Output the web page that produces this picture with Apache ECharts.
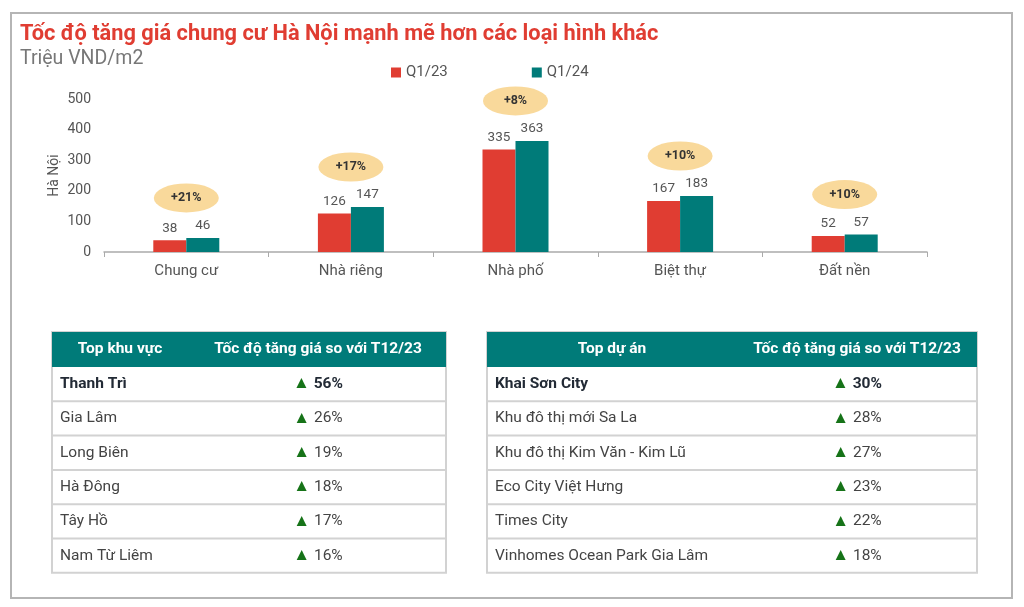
<!DOCTYPE html>
<html>
<head>
<meta charset="utf-8">
<script src="https://cdn.jsdelivr.net/npm/echarts@6/dist/echarts.min.js"></script>
<style>
html,body{margin:0;padding:0;background:#fff;}
#chart{width:1024px;height:607px;}
</style>
</head>
<body>
<div id="chart"></div>
<script>
const categories = ['Chung cư', 'Nhà riêng', 'Nhà phố', 'Biệt thự', 'Đất nền'];
const seriesNames = ['Q1/23', 'Q1/24'];
const q1_23 = [38, 126, 335, 167, 52];
const q1_24 = [46, 147, 363, 183, 57];
const growthLabels = ['+21%', '+17%', '+8%', '+10%', '+10%'];
const yMin = 0, yMax = 500, yInterval = 100;

const areaHeader = ['Top khu vực', 'Tốc độ tăng giá so với T12/23'];
const areaNames = ['Thanh Trì', 'Gia Lâm', 'Long Biên', 'Hà Đông', 'Tây Hồ', 'Nam Từ Liêm'];
const areaGrowth = ['56%', '26%', '19%', '18%', '17%', '16%'];

const projectHeader = ['Top dự án', 'Tốc độ tăng giá so với T12/23'];
const projectNames = ['Khai Sơn City', 'Khu đô thị mới Sa La', 'Khu đô thị Kim Văn - Kim Lũ', 'Eco City Việt Hưng', 'Times City', 'Vinhomes Ocean Park Gia Lâm'];
const projectGrowth = ['30%', '28%', '27%', '23%', '22%', '18%'];

const RED = '#e03d32', TEAL = '#007b79', FONT = 'Roboto, "Noto Sans", sans-serif';

function buildTable(x0, x1, c1Center, c2Center, header, names, growth) {
  const els = [];
  const top = 332, headH = 35, rowH = 34.3;
  const n = names.length;
  const bottom = top + headH + rowH * n;
  els.push({type: 'rect', shape: {x: x0, y: top, width: x1 - x0, height: bottom - top},
    style: {fill: '#fff', stroke: '#d2d2d2', lineWidth: 2}});
  els.push({type: 'rect', shape: {x: x0, y: top, width: x1 - x0, height: headH},
    style: {fill: TEAL}});
  els.push({type: 'text', style: {text: header[0], x: c1Center, y: top + headH / 2, align: 'center', verticalAlign: 'middle',
    font: 'bold 15.5px ' + FONT, fill: '#fff'}});
  els.push({type: 'text', style: {text: header[1], x: c2Center, y: top + headH / 2, align: 'center', verticalAlign: 'middle',
    font: 'bold 15.5px ' + FONT, fill: '#fff'}});
  for (let i = 0; i < n; i++) {
    const ry = top + headH + rowH * i;
    if (i > 0) {
      els.push({type: 'line', shape: {x1: x0, y1: ry, x2: x1, y2: ry}, style: {stroke: '#d2d2d2', lineWidth: 2}});
    }
    els.push({type: 'text', style: {text: names[i], x: x0 + 8, y: ry + rowH / 2, align: 'left', verticalAlign: 'middle',
      font: (i === 0 ? 'bold ' : '') + '15.5px ' + FONT, fill: i === 0 ? '#222a35' : '#444'}});
    els.push({type: 'text', style: {text: '{t|▲} {v|' + growth[i] + '}', x: c2Center, y: ry + rowH / 2, align: 'center', verticalAlign: 'middle',
      font: '15.5px ' + FONT,
      rich: {
        t: {fill: '#167318', font: '17px ' + FONT},
        v: {fill: i === 0 ? '#222a35' : '#444', font: (i === 0 ? 'bold ' : '') + '15.5px ' + FONT}
      }}});
  }
  return els;
}

const chart = echarts.init(document.getElementById('chart'));
const option = {
  backgroundColor: '#fff',
  animation: false,
  title: [
    {text: 'Tốc độ tăng giá chung cư Hà Nội mạnh mẽ hơn các loại hình khác', left: 15, top: 19,
      textStyle: {color: RED, fontSize: 21.8, fontWeight: 'bold', fontFamily: FONT}},
    {text: 'Triệu VND/m2', left: 15, top: 44,
      textStyle: {color: '#777', fontSize: 19.5, fontWeight: 'normal', fontFamily: FONT}}
  ],
  legend: {
    data: seriesNames, left: 386, top: 60, itemWidth: 10, itemHeight: 10, itemGap: 84, icon: 'rect',
    textStyle: {fontSize: 15, color: '#555', fontFamily: FONT}
  },
  grid: {left: 104, right: 97, top: 99, bottom: 355},
  xAxis: {
    type: 'category', data: categories,
    axisLine: {lineStyle: {color: '#aaa', width: 1.5}},
    axisTick: {show: true, lineStyle: {color: '#aaa'}, length: 5},
    axisLabel: {fontSize: 15, color: '#555', margin: 12, fontFamily: FONT}
  },
  yAxis: {
    type: 'value', min: yMin, max: yMax, interval: yInterval,
    name: 'Hà Nội', nameLocation: 'middle', nameGap: 43, nameRotate: 90, nameMoveOverlap: false,
    nameTextStyle: {fontSize: 14, color: '#555', fontFamily: FONT},
    splitLine: {show: false}, axisLine: {show: false}, axisTick: {show: false},
    axisLabel: {fontSize: 14, color: '#555', margin: 13, fontFamily: FONT}
  },
  series: [
    {name: seriesNames[0], type: 'bar', data: q1_23, barWidth: 33, barGap: '0%', itemStyle: {color: RED},
      label: {show: true, position: 'top', distance: 5, fontSize: 13.5, color: '#555', fontFamily: FONT}},
    {name: seriesNames[1], type: 'bar', data: q1_24, barWidth: 33, barGap: '0%', itemStyle: {color: TEAL},
      label: {show: true, position: 'top', distance: 5, fontSize: 13.5, color: '#555', fontFamily: FONT}},
    {name: 'growth', type: 'custom', silent: true, z: 5,
      data: categories.map((c, i) => [i, Math.max(q1_23[i], q1_24[i])]),
      encode: {x: 0, y: 1},
      renderItem: function (params, api) {
        const p = api.coord([api.value(0), api.value(1)]);
        const cx = p[0], cy = p[1] - 40;
        return {type: 'group', children: [
          {type: 'circle', shape: {cx: 0, cy: 0, r: 14.5}, x: cx, y: cy, scaleX: 65 / 29,
            style: {fill: '#f9d99b'}},
          {type: 'text', style: {text: growthLabels[params.dataIndex], x: cx, y: cy, align: 'center', verticalAlign: 'middle',
            font: 'bold 12.5px ' + FONT, fill: '#333'}}
        ]};
      }
    }
  ],
  graphic: [
    {type: 'rect', shape: {x: 11, y: 13, width: 1001, height: 585}, style: {fill: 'none', stroke: '#b5b5b5', lineWidth: 2}, z: 0},
    ...buildTable(52, 446, 120, 318, areaHeader, areaNames, areaGrowth),
    ...buildTable(487, 977, 612, 857, projectHeader, projectNames, projectGrowth)
  ]
};
chart.setOption(option);
</script>
</body>
</html>
